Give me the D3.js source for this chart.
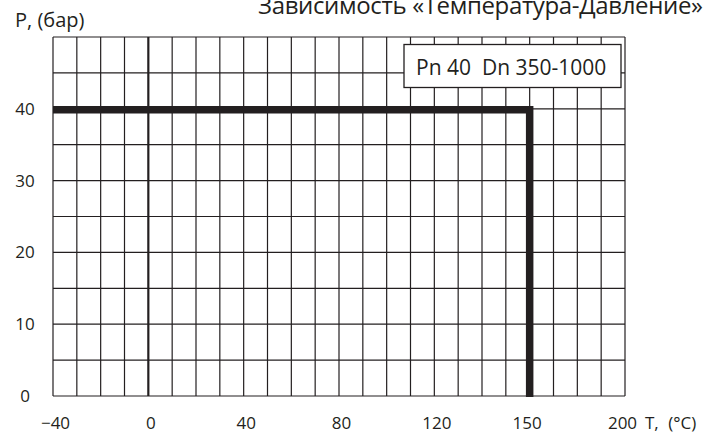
<!DOCTYPE html>
<html>
<head>
<meta charset="utf-8">
<script src="https://cdn.jsdelivr.net/npm/d3@7"></script>
<style>
  body { margin: 0; background: #fff; }
  svg { display: block; font-family: "Open Sans", sans-serif; }
</style>
</head>
<body>
<div id="chart"></div>
<script>
// chart values
const tempTicks = [-40, 0, 40, 80, 120, 150, 200];
const pressTicks = [0, 10, 20, 30, 40];
const limitTemp = [-40, 150, 150];
const limitPress = [40, 40, 0];
const titleText = "Зависимость «Температура-Давление»";
const legendText = "Pn 40  Dn 350-1000";

const W = 717, H = 434;
const margin = {top: 37, right: 92, bottom: 38, left: 53},
    width = W - margin.left - margin.right,
    height = H - margin.top - margin.bottom;
const ink = "#231f20";

const svg = d3.select("#chart")
    .append("svg")
    .attr("width", W)
    .attr("height", H);

const g = svg.append("g")
    .attr("transform", `translate(${margin.left}, ${margin.top})`);

// the temperature axis is schematic: ticks are evenly spaced
const x = d3.scaleLinear()
    .domain(tempTicks)
    .range(tempTicks.map((d, i) => i * width / (tempTicks.length - 1)));

const y = d3.scaleLinear()
    .domain([0, 50])
    .range([height, 0]);

// four grid columns per tick step
const col = d3.scaleLinear()
    .domain([0, (tempTicks.length - 1) * 4])
    .range([0, width]);

g.append("g")
    .selectAll("line")
    .data(d3.range(0, (tempTicks.length - 1) * 4 + 1))
    .join("line")
    .attr("x1", d => col(d))
    .attr("x2", d => col(d))
    .attr("y1", 0)
    .attr("y2", height)
    .attr("stroke", ink)
    .attr("stroke-width", d => col(d) === x(0) ? 2.2 : 1.2);

g.append("g")
    .selectAll("line")
    .data(d3.range(0, 51, 5))
    .join("line")
    .attr("x1", 0)
    .attr("x2", width)
    .attr("y1", d => y(d))
    .attr("y2", d => y(d))
    .attr("stroke", ink)
    .attr("stroke-width", 1.2);

// pressure limit
const limit = limitTemp.map((t, i) => ({t, p: limitPress[i]}));
g.append("path")
    .datum(limit)
    .attr("fill", "none")
    .attr("stroke", ink)
    .attr("stroke-width", 7.5)
    .attr("stroke-linejoin", "miter")
    .attr("d", d3.line().x(d => x(d.t)).y(d => y(d.p) + 1));

// axes
const xAxis = g.append("g")
    .attr("transform", `translate(0, ${height})`)
    .call(d3.axisBottom(x).tickValues(tempTicks).tickSize(0).tickPadding(21));
const yAxis = g.append("g")
    .call(d3.axisLeft(y).tickValues(pressTicks).tickSize(0));
[xAxis, yAxis].forEach(a => {
    a.select(".domain").remove();
    a.selectAll("text")
        .attr("fill", ink)
        .style("font-family", "Open Sans")
        .style("font-size", "17px");
});
xAxis.selectAll("text").attr("dx", d => d >= 150 ? -3 : 2);
yAxis.selectAll("text")
    .attr("text-anchor", "middle")
    .attr("x", -28);

svg.append("text")
    .attr("x", 645)
    .attr("y", 429)
    .attr("fill", ink)
    .style("font-size", "17px")
    .style("word-spacing", "5px")
    .text("T, (°C)");

svg.append("text")
    .attr("x", 15)
    .attr("y", 27)
    .attr("fill", ink)
    .style("font-size", "20px")
    .text("P, (бар)");

svg.append("text")
    .attr("x", 258)
    .attr("y", 14)
    .attr("fill", ink)
    .attr("textLength", 445)
    .style("font-size", "24px")
    .text(titleText);

// legend box
const legend = svg.append("g")
    .attr("transform", `translate(404, 44.5)`);
legend.append("rect")
    .attr("width", 217)
    .attr("height", 43)
    .attr("fill", "#fff")
    .attr("stroke", ink)
    .attr("stroke-width", 1.3);
legend.append("text")
    .attr("x", 12)
    .attr("y", 30)
    .attr("fill", ink)
    .style("font-size", "21px")
    .style("white-space", "pre")
    .text(legendText);
</script>
</body>
</html>
